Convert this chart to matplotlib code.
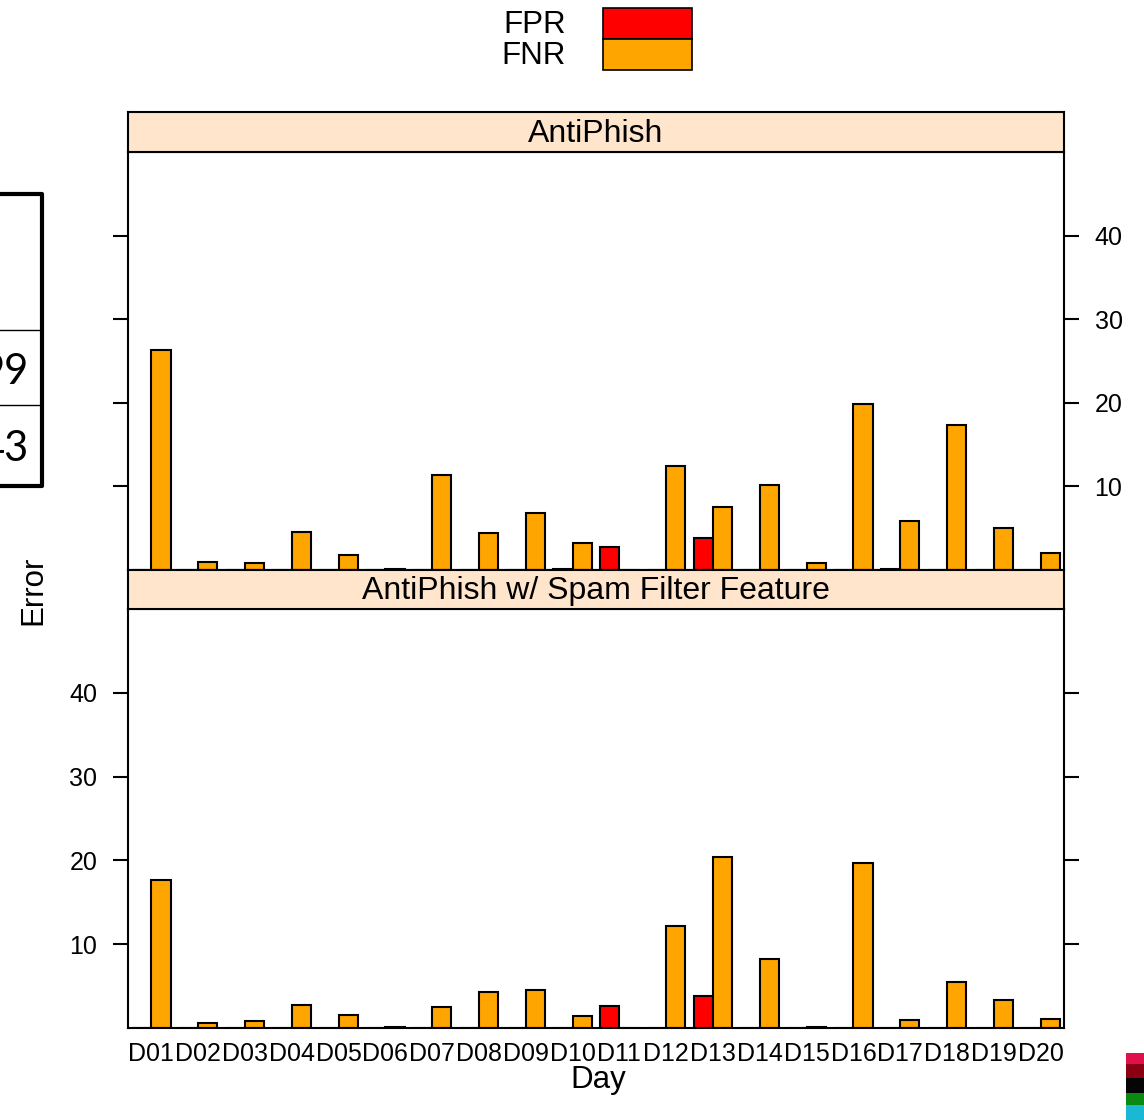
import numpy as np
import matplotlib
matplotlib.use("Agg")
import matplotlib.pyplot as plt
from matplotlib.patches import Rectangle
from matplotlib.lines import Line2D

plt.rcParams['font.family'] = ['Liberation Sans', 'DejaVu Sans']

days = ['D%02d' % i for i in range(1, 21)]
series = ['FPR', 'FNR']
colors = {'FPR': '#ff0000', 'FNR': '#ffa500'}

# AntiPhish
fpr_top = [0, 0, 0, 0, 0, 0, 0, 0, 0, 0.15, 2.75, 0, 3.8, 0, 0, 0, 0.15, 0, 0, 0]
fnr_top = [26.3, 1.0, 0.85, 4.5, 1.8, 0.15, 11.4, 4.4, 6.8, 3.2,
           0, 12.5, 7.5, 10.2, 0.85, 19.8, 5.85, 17.3, 5.0, 2.0]
# AntiPhish w/ Spam Filter Feature
fpr_bot = [0, 0, 0, 0, 0, 0, 0, 0, 0, 0, 2.6, 0, 3.8, 0, 0, 0, 0, 0, 0, 0]
fnr_bot = [17.7, 0.55, 0.8, 2.7, 1.5, 0.15, 2.55, 4.35, 4.5, 1.4,
           0, 12.2, 20.4, 8.2, 0.15, 19.7, 1.0, 5.45, 3.4, 1.1]

panels = ['AntiPhish', 'AntiPhish w/ Spam Filter Feature']
yticks = [10, 20, 30, 40]

W, H = 1144, 1120
fig = plt.figure(figsize=(W / 100, H / 100), dpi=100)

def fx(px):
    return px / W

def fy(py):
    return 1 - py / H

left, right = 128, 1064
layout = [(112, 152, 570), (570, 609, 1028)]
data = [(fpr_top, fnr_top), (fpr_bot, fnr_bot)]
x = np.arange(len(days))
w = 0.41

for k, (s0, s1, p1) in enumerate(layout):
    ax = fig.add_axes([fx(left), fy(p1), fx(right) - fx(left), fy(s1) - fy(p1)])
    fpr, fnr = data[k]
    ax.bar(x - w / 2, fpr, width=w, color=colors['FPR'], edgecolor='black', linewidth=1.5)
    ax.bar(x + w / 2, fnr, width=w, color=colors['FNR'], edgecolor='black', linewidth=1.5)
    ax.set_xlim(-0.5, len(days) - 0.5)
    ax.set_ylim(0, 50)
    ax.set_yticks(yticks)
    for sp in ax.spines.values():
        sp.set_linewidth(1.5)
    ax.tick_params(axis='y', direction='out', length=11, width=1.5, labelsize=18,
                   left=True, right=True, pad=11)
    if k == 0:
        ax.tick_params(axis='y', labelleft=False, labelright=True)
        ax.set_xticks([])
    else:
        ax.tick_params(axis='y', labelleft=True, labelright=False)
        ax.set_xticks(x)
        ax.set_xticklabels(days, fontsize=18)
        ax.tick_params(axis='x', length=0, pad=10)

    # strip
    sax = fig.add_axes([fx(left), fy(s1), fx(right) - fx(left), fy(s0) - fy(s1)])
    sax.set_facecolor('#ffe5cc')
    sax.set_xticks([])
    sax.set_yticks([])
    for sp in sax.spines.values():
        sp.set_linewidth(1.5)
    sax.text(0.5, 0.46, panels[k], ha='center', va='center', fontsize=23,
             transform=sax.transAxes)

fig.text(fx(33), fy(590), 'Error', rotation=90, ha='center', va='center', fontsize=22.5)
fig.text(fx(598), fy(1080), 'Day', ha='center', va='center', fontsize=22.5)

# legend
for i, s in enumerate(series):
    y0 = 8 + i * 31
    fig.add_artist(Rectangle((fx(603), fy(y0 + 31)), fx(692) - fx(603), 31 / H,
                             facecolor=colors[s], edgecolor='black', linewidth=1.2))
    fig.text(fx(566), fy(y0 + 17), s, ha='right', va='center', fontsize=22.5)

# cropped table fragment on the left edge
fig.add_artist(Line2D([0, fx(42), fx(42), 0], [fy(194), fy(194), fy(486), fy(486)],
                      color='black', linewidth=3))
for yy in (330, 405):
    fig.add_artist(Line2D([0, fx(42)], [fy(yy), fy(yy)], color='black', linewidth=1))
fig.text(fx(29), fy(372), '99', ha='right', va='center', fontsize=30, family='Lato')
fig.text(fx(29), fy(449), '43', ha='right', va='center', fontsize=30, family='Lato')

# cropped logo at bottom right
stripes = [(1053, 1064, '#e0104a'), (1064, 1078, '#8a0012'), (1078, 1093, '#050505'),
           (1093, 1105, '#0a8a12'), (1105, 1120, '#1ab8d2')]
for y0, y1, c in stripes:
    fig.add_artist(Rectangle((fx(1126), fy(y1)), fx(1144) - fx(1126), (y1 - y0) / H,
                             facecolor=c, edgecolor='none'))

fig.savefig('out.png', dpi=100)
